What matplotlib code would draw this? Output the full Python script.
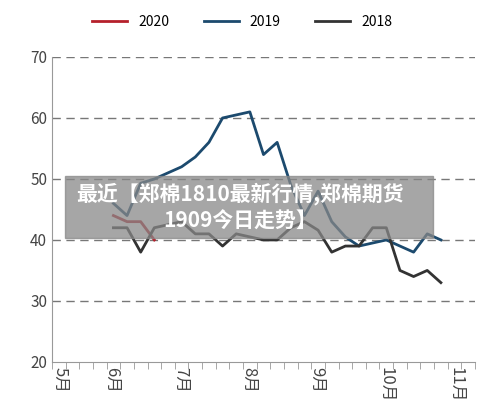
import matplotlib
matplotlib.use("Agg")
import matplotlib.pyplot as plt
from matplotlib.patches import Rectangle

plt.rcParams['font.family'] = ['Noto Sans CJK SC', 'DejaVu Sans']

# weekly values, x in weeks from start of May
weeks_2020 = [4.5, 5.5, 6.5, 7.5]
val_2020 = [44, 43, 43, 40]

weeks_2019 = [4.5, 5.5, 6.5, 7.5, 8.5, 9.5, 10.5, 11.5, 12.5, 13.5, 14.5, 15.5, 16.5,
              17.5, 18.5, 19.5, 20.5, 21.5, 22.5, 23.5, 24.5, 25.5, 26.5, 27.5, 28.5]
val_2019 = [46, 44, 49.3, 50, 51, 52, 53.6, 56, 60, 60.5, 61, 54, 56,
            49, 44, 48, 43, 40.5, 39, 39.5, 40, 39, 38, 41, 40]

weeks_2018 = weeks_2019
val_2018 = [42, 42, 38, 42, 42.5, 43, 41, 41, 39, 41, 40.5, 40, 40,
            42, 43, 41.6, 38, 39, 39, 42, 42, 35, 34, 35, 33]

month_pos = [0.6, 4.4, 9.4, 14.4, 19.4, 24.5, 29.6]
month_labels = ["5月", "6月", "7月", "8月", "9月", "10月", "11月"]

fig = plt.figure(figsize=(5, 4.16), dpi=100)
ax = fig.add_axes([0.104, 0.13, 0.846, 0.733])

ax.plot(weeks_2020, val_2020, color="#b5202b", lw=2, label="2020")
ax.plot(weeks_2019, val_2019, color="#1c4a6e", lw=2, label="2019")
ax.plot(weeks_2018, val_2018, color="#333333", lw=2, label="2018")

ax.set_ylim(20, 70)
ax.set_xlim(0, 31)
ax.set_yticks(range(20, 71, 10))
for y in range(30, 71, 10):
    ax.axhline(y, color="#777777", lw=1, ls=(0, (6, 4)), zorder=0)
ax.set_xticks(range(0, 32), minor=True)
ax.set_xticks(month_pos)
ax.set_xticklabels(month_labels, rotation=-90, fontsize=12, color="#444444")
ax.tick_params(axis='x', which='major', length=0, pad=4)
ax.tick_params(axis='x', which='minor', length=5, color="#999999")
ax.tick_params(axis='y', length=0, labelsize=11, colors="#444444")
for s in ['top', 'right']:
    ax.spines[s].set_visible(False)
ax.spines['left'].set_color("#999999")
ax.spines['bottom'].set_color("#999999")

ax.legend(loc='lower center', bbox_to_anchor=(0.45, 1.05), ncol=3, frameon=False,
          fontsize=10, handlelength=2.5, columnspacing=2.5)

fig.patches.append(Rectangle((65 / 500, 1 - 238 / 416), 368 / 500, 62 / 416,
                             transform=fig.transFigure, color="#888888", alpha=0.75, zorder=5))
fig.text(0.48, 1 - 207 / 416, "最近【郑棉1810最新行情,郑棉期货\n1909今日走势】", color="white",
         fontsize=15, fontweight="bold", ha="center", va="center", linespacing=1.3, zorder=6)

fig.savefig("out.png")
